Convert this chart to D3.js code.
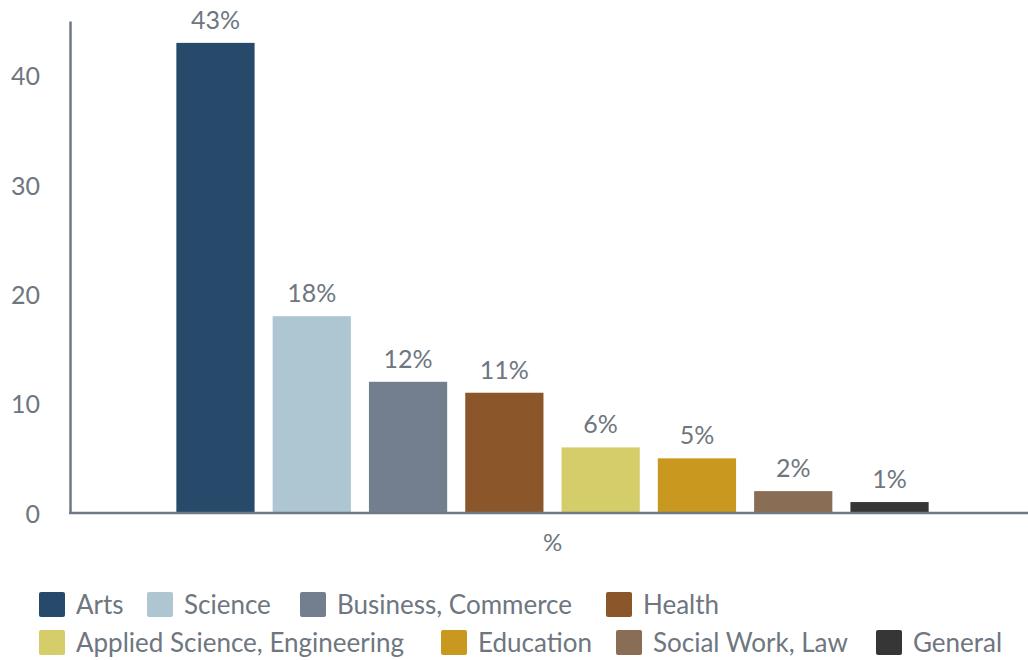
<!DOCTYPE html>
<html><head><meta charset="utf-8">
<script src="https://cdn.jsdelivr.net/npm/d3@7"></script>
<style>body{margin:0;background:#fff}svg{display:block}</style>
</head><body>
<svg id="c" width="1028" height="660"></svg>
<script>
const categories = ["%"];
const series = ["Arts","Science","Business, Commerce","Health","Applied Science, Engineering","Education","Social Work, Law","General"];
const values = [43,18,12,11,6,5,2,1];
const labels = ["43%","18%","12%","11%","6%","5%","2%","1%"];
const colors = ["#274a6b","#adc6d1","#737f8f","#8b572a","#d5cc6a","#c9981f","#8a6d55","#363636"];
const yTicks = [0,10,20,30,40];

(function(){
const font = "Lato, 'Open Sans', sans-serif";
const textCol = "#6e7680", axisCol = "#6f7985";
const svg = d3.select("#c");
const mLeft = 71, mRight = 1034, mTop = 21, mBottom = 513;
const y = d3.scaleLinear().domain([0,45]).range([mBottom, mTop]);
const x0 = d3.scaleBand().domain(categories).range([mLeft, mRight]).paddingInner(0.2).paddingOuter(0.1);
const x1 = d3.scaleBand().domain(series).range([0, x0.bandwidth()]).paddingInner(0.1875).paddingOuter(0.094);

const g = svg.append("g");
categories.forEach(c => {
  const gg = g.append("g").attr("transform", `translate(${x0(c)},0)`);
  gg.selectAll("rect").data(series).join("rect")
    .attr("x", s => x1(s)).attr("width", x1.bandwidth())
    .attr("y", (s,i) => y(values[i])).attr("height", (s,i) => y(0) - y(values[i]))
    .attr("fill", (s,i) => colors[i]);
  gg.selectAll("text").data(series).join("text")
    .attr("x", s => x1(s) + x1.bandwidth()/2)
    .attr("y", (s,i) => y(values[i]) - 14)
    .attr("text-anchor","middle").attr("font-family", font).attr("font-size", 25)
    .attr("fill", textCol).text((s,i) => labels[i]);
});

const ya = svg.append("g").attr("transform", `translate(70,0)`)
  .call(d3.axisLeft(y).tickValues(yTicks).tickSize(0).tickPadding(30));
ya.select(".domain").attr("stroke", axisCol).attr("stroke-width", 2.5);
ya.selectAll("text").attr("font-family", font).attr("font-size", 25).attr("fill", textCol).attr("dy","0.36em");

const xa = svg.append("g").attr("transform", `translate(0,${mBottom})`)
  .call(d3.axisBottom(x0).tickSize(0).tickPadding(21));
xa.select(".domain").attr("stroke", axisCol).attr("stroke-width", 2.5).attr("d", `M69,0H1028`);
xa.selectAll("text").attr("font-family", font).attr("font-size", 24).attr("fill", textCol);

const legPos = [[39,592],[147,592],[300,592],[606,592],[39,630],[441,630],[616,630],[876,630]];
const lg = svg.append("g");
series.forEach((s,i) => {
  const [lx, ly] = legPos[i];
  lg.append("rect").attr("x", lx).attr("y", ly).attr("width", 26).attr("height", 25).attr("rx", 2)
    .attr("fill", colors[i]);
  lg.append("text").attr("x", lx + 37).attr("y", ly + 12.5).attr("dy", "0.36em")
    .attr("font-family", font).attr("font-size", 26).attr("fill", textCol).text(s);
});
})();
</script>
</body></html>
